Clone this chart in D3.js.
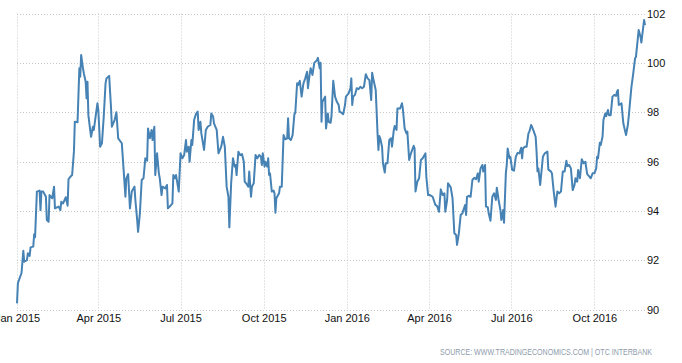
<!DOCTYPE html>
<html>
<head>
<meta charset="utf-8">
<script src="https://cdn.jsdelivr.net/npm/d3@7"></script>
<style>
  html, body { margin: 0; padding: 0; background: #fff; }
  svg { display: block; }
</style>
</head>
<body>
<svg id="chart" width="682" height="363"></svg>
<script>
// ---- data ----
const dates = [
"2015-01-01","2015-01-02","2015-01-06","2015-01-08","2015-01-09","2015-01-12","2015-01-13","2015-01-15","2015-01-16","2015-01-19",
"2015-01-20","2015-01-21","2015-01-23","2015-01-26","2015-01-27","2015-01-28","2015-01-30","2015-02-02","2015-02-03","2015-02-05",
"2015-02-06","2015-02-09","2015-02-11","2015-02-12","2015-02-16","2015-02-18","2015-02-19","2015-02-21","2015-02-24","2015-02-26",
"2015-02-27","2015-03-01","2015-03-03","2015-03-05","2015-03-06","2015-03-09","2015-03-11","2015-03-12","2015-03-13","2015-03-15",
"2015-03-16","2015-03-18","2015-03-19","2015-03-20","2015-03-21","2015-03-23","2015-03-24","2015-03-26","2015-03-27","2015-03-29",
"2015-03-31","2015-04-01","2015-04-03","2015-04-05","2015-04-07","2015-04-09","2015-04-10","2015-04-13","2015-04-15","2015-04-16",
"2015-04-19","2015-04-21","2015-04-23","2015-04-27","2015-04-29","2015-05-01","2015-05-02","2015-05-04","2015-05-06","2015-05-08",
"2015-05-11","2015-05-12","2015-05-14","2015-05-15","2015-05-17","2015-05-19","2015-05-21","2015-05-23","2015-05-25","2015-05-26",
"2015-05-28","2015-05-30","2015-05-31","2015-06-02","2015-06-03","2015-06-05","2015-06-07","2015-06-08","2015-06-10","2015-06-11",
"2015-06-14","2015-06-16","2015-06-17","2015-06-19","2015-06-22","2015-06-23","2015-06-25","2015-06-26","2015-06-29","2015-07-01",
"2015-07-03","2015-07-05","2015-07-07","2015-07-08","2015-07-10","2015-07-11","2015-07-13","2015-07-14","2015-07-16","2015-07-18",
"2015-07-20","2015-07-21","2015-07-23","2015-07-24","2015-07-27","2015-07-29","2015-07-31","2015-08-03","2015-08-04","2015-08-06",
"2015-08-07","2015-08-10","2015-08-12","2015-08-15","2015-08-17","2015-08-19","2015-08-21","2015-08-23","2015-08-24","2015-08-26",
"2015-08-28","2015-08-30","2015-08-31","2015-09-01","2015-09-03","2015-09-05","2015-09-07","2015-09-09","2015-09-10","2015-09-12",
"2015-09-14","2015-09-15","2015-09-17","2015-09-18","2015-09-20","2015-09-22","2015-09-24","2015-09-26","2015-09-28","2015-09-29",
"2015-09-30","2015-10-02","2015-10-03","2015-10-05","2015-10-06","2015-10-07","2015-10-08","2015-10-10","2015-10-12","2015-10-13",
"2015-10-14","2015-10-15","2015-10-18","2015-10-19","2015-10-21","2015-10-23","2015-10-25","2015-10-27","2015-10-28","2015-10-29",
"2015-10-31","2015-11-02","2015-11-04","2015-11-05","2015-11-07","2015-11-08","2015-11-10","2015-11-12","2015-11-14","2015-11-16",
"2015-11-18","2015-11-19","2015-11-21","2015-11-22","2015-11-24","2015-11-26","2015-11-29","2015-11-30","2015-12-02","2015-12-03",
"2015-12-04","2015-12-05","2015-12-08","2015-12-09","2015-12-11","2015-12-12","2015-12-14","2015-12-15","2015-12-17","2015-12-19",
"2015-12-21","2015-12-23","2015-12-24","2015-12-26","2015-12-28","2015-12-30","2015-12-31","2016-01-03","2016-01-05","2016-01-06",
"2016-01-07","2016-01-08","2016-01-10","2016-01-12","2016-01-14","2016-01-16","2016-01-18","2016-01-20","2016-01-22","2016-01-24",
"2016-01-26","2016-01-28","2016-01-29","2016-01-31","2016-02-02","2016-02-04","2016-02-05","2016-02-06","2016-02-07","2016-02-09",
"2016-02-10","2016-02-12","2016-02-13","2016-02-15","2016-02-17","2016-02-19","2016-02-20","2016-02-22","2016-02-23","2016-02-25",
"2016-02-26","2016-02-29","2016-03-02","2016-03-03","2016-03-05","2016-03-07","2016-03-08","2016-03-10","2016-03-12","2016-03-15",
"2016-03-16","2016-03-17","2016-03-19","2016-03-21","2016-03-23","2016-03-25","2016-03-28","2016-03-29","2016-03-31","2016-04-02",
"2016-04-05","2016-04-08","2016-04-10","2016-04-12","2016-04-14","2016-04-16","2016-04-18","2016-04-19","2016-04-21","2016-04-22",
"2016-04-25","2016-04-27","2016-04-29","2016-05-01","2016-05-02","2016-05-04","2016-05-06","2016-05-08","2016-05-09","2016-05-11",
"2016-05-12","2016-05-13","2016-05-15","2016-05-17","2016-05-19","2016-05-21","2016-05-23","2016-05-25","2016-05-26","2016-05-28",
"2016-05-30","2016-05-31","2016-06-02","2016-06-03","2016-06-05","2016-06-06","2016-06-08","2016-06-10","2016-06-12","2016-06-14",
"2016-06-15","2016-06-17","2016-06-19","2016-06-20","2016-06-22","2016-06-23","2016-06-25","2016-06-26","2016-06-27","2016-06-29",
"2016-06-30","2016-07-02","2016-07-04","2016-07-06","2016-07-08","2016-07-10","2016-07-12","2016-07-13","2016-07-14","2016-07-16",
"2016-07-18","2016-07-20","2016-07-21","2016-07-23","2016-07-24","2016-07-26","2016-07-28","2016-07-29","2016-07-30","2016-07-31",
"2016-08-02","2016-08-05","2016-08-07","2016-08-10","2016-08-11","2016-08-14","2016-08-15","2016-08-17","2016-08-19","2016-08-21",
"2016-08-23","2016-08-25","2016-08-27","2016-08-29","2016-08-31","2016-09-01","2016-09-03","2016-09-05","2016-09-07","2016-09-09",
"2016-09-10","2016-09-12","2016-09-13","2016-09-15","2016-09-17","2016-09-19","2016-09-21","2016-09-23","2016-09-25","2016-09-27",
"2016-09-29","2016-10-01","2016-10-03","2016-10-04","2016-10-05","2016-10-07","2016-10-08","2016-10-10","2016-10-11","2016-10-13",
"2016-10-14","2016-10-16","2016-10-17","2016-10-19","2016-10-21","2016-10-23","2016-10-25","2016-10-26","2016-10-27","2016-10-28",
"2016-10-31","2016-11-02","2016-11-05","2016-11-07","2016-11-08","2016-11-10","2016-11-11","2016-11-13","2016-11-15","2016-11-16",
"2016-11-19","2016-11-21","2016-11-22","2016-11-23","2016-11-25","2016-11-26"
];
const values = [
90.25,91.07,91.48,92.38,91.94,92.00,92.28,92.17,92.52,92.55,
93.05,92.93,94.78,94.82,94.03,94.78,94.78,94.57,93.63,93.56,
94.64,94.51,94.98,94.10,94.17,94.03,94.37,94.30,94.55,94.21,
95.28,95.38,95.45,96.40,97.61,97.59,99.78,99.44,100.32,99.78,
99.57,99.23,98.56,99.23,97.88,97.28,97.00,97.41,97.28,97.82,
98.36,98.09,96.60,96.74,97.82,99.17,99.37,99.47,98.22,97.41,
97.68,98.00,96.94,96.74,95.66,94.57,95.32,95.49,94.10,94.78,
94.98,94.44,93.63,93.15,93.90,95.25,95.32,96.13,96.03,97.34,
96.94,97.28,96.87,97.41,95.45,96.33,95.52,95.32,94.64,94.98,
94.91,95.05,94.10,94.17,94.30,95.45,95.32,95.45,94.78,96.33,
96.13,96.26,96.87,96.40,96.60,95.99,96.87,96.67,97.68,97.92,
98.02,97.28,97.61,97.14,96.47,97.28,97.41,97.48,97.95,97.82,
97.55,97.28,96.33,96.60,97.00,96.60,94.98,94.57,93.33,95.12,
96.13,95.79,95.86,95.45,96.40,96.26,96.30,95.99,95.18,95.09,
94.98,95.59,94.57,94.98,95.12,96.26,96.13,96.26,96.19,95.86,
96.33,95.79,95.99,95.79,96.13,95.45,95.52,94.78,94.82,94.71,
93.92,94.51,94.71,94.98,94.98,97.07,96.90,96.94,97.75,96.94,
96.87,97.07,97.92,97.98,99.17,99.10,99.27,98.63,99.17,99.37,
99.64,98.97,99.57,99.78,99.51,100.00,100.11,100.20,99.78,100.00,
97.61,98.42,98.63,97.34,97.95,97.61,97.57,97.82,99.27,98.63,
98.42,98.29,98.02,97.98,97.92,98.29,98.63,98.76,98.97,99.37,
98.29,98.63,98.70,98.97,98.93,99.03,98.97,99.03,99.54,99.37,
99.30,98.49,99.60,99.23,98.90,97.14,96.47,97.03,96.94,96.60,
95.93,95.55,95.93,95.93,96.87,96.94,96.60,97.28,97.44,97.28,
98.15,98.15,98.36,98.15,97.34,97.14,97.21,96.06,96.33,96.64,
96.53,94.78,95.18,95.32,96.06,96.13,96.33,95.38,94.64,94.64,
94.57,94.24,94.19,93.96,94.87,94.64,94.71,93.96,94.44,95.12,
94.95,94.51,93.09,93.02,92.62,93.09,93.83,93.90,94.03,94.24,
93.83,94.57,94.61,94.57,95.25,95.34,95.28,95.52,95.18,95.72,
95.86,95.59,95.86,94.17,94.15,93.90,93.60,94.57,94.71,94.44,
94.94,94.44,94.03,93.63,94.03,93.52,95.52,95.86,96.53,96.13,
96.19,95.66,95.63,96.19,96.35,96.33,96.56,96.13,96.53,96.60,
96.60,97.14,97.21,97.48,97.41,97.21,97.00,96.40,95.60,95.72,
95.05,96.19,96.33,96.40,95.68,95.59,95.52,94.78,94.17,94.78,
94.71,94.78,95.59,95.59,96.03,95.82,95.86,95.72,94.84,95.05,
95.32,95.18,95.66,95.32,96.09,95.93,95.99,95.49,95.41,95.32,
95.52,95.52,95.72,96.19,96.13,96.76,96.67,97.00,97.68,97.95,
97.84,98.09,97.88,97.88,98.63,98.70,98.66,98.83,98.90,98.29,
98.36,97.55,97.07,97.48,97.82,98.63,99.03,99.57,100.18,100.25,
101.33,101.06,100.82,101.13,101.74,101.53
];
const xTickDates = ["2015-01-01","2015-04-01","2015-07-01","2015-10-01","2016-01-01","2016-04-01","2016-07-01","2016-10-01"];
const xTickLabels = ["Jan 2015","Apr 2015","Jul 2015","Oct 2015","Jan 2016","Apr 2016","Jul 2016","Oct 2016"];
const yTicks = [90, 92, 94, 96, 98, 100, 102];
const sourceText = "SOURCE: WWW.TRADINGECONOMICS.COM | OTC INTERBANK";

// ---- layout ----
const W = 682, H = 363;
const margin = { top: 13.5, right: 37, bottom: 53.5, left: 17 };
const parse = d3.utcParse("%Y-%m-%d");
const data = dates.map((d, i) => ({ date: parse(d), value: values[i] }));

const x = d3.scaleUtc()
  .domain(d3.extent(data, d => d.date))
  .range([margin.left, W - margin.right]);
const y = d3.scaleLinear()
  .domain([90, 102])
  .range([H - margin.bottom, margin.top]);

const svg = d3.select("#chart");
const font = "'Liberation Sans', Arial, sans-serif";

// horizontal grid
svg.append("g")
  .selectAll("line")
  .data(yTicks)
  .join("line")
  .attr("x1", margin.left)
  .attr("x2", W - margin.right)
  .attr("y1", d => Math.round(y(d)) + 0.5)
  .attr("y2", d => Math.round(y(d)) + 0.5)
  .attr("stroke", "#c8c8c8")
  .attr("stroke-width", 1)
  .attr("stroke-dasharray", "1,2");

// vertical grid
const tickDates = xTickDates.map(parse);
svg.append("g")
  .selectAll("line")
  .data(tickDates)
  .join("line")
  .attr("x1", d => Math.round(x(d)) + 0.5)
  .attr("x2", d => Math.round(x(d)) + 0.5)
  .attr("y1", margin.top)
  .attr("y2", H - margin.bottom)
  .attr("stroke", "#c8c8c8")
  .attr("stroke-width", 1)
  .attr("stroke-dasharray", "1,2");

// x axis labels via d3 axis
const xAxis = d3.axisBottom(x)
  .tickValues(tickDates)
  .tickFormat((d, i) => xTickLabels[i])
  .tickSize(0)
  .tickPadding(0);
const gx = svg.append("g")
  .attr("transform", `translate(0, ${H - margin.bottom + 5})`)
  .call(xAxis);
gx.select(".domain").remove();
gx.selectAll("text")
  .attr("fill", "#111")
  .style("font-family", font)
  .style("font-size", "11px");

// y axis labels on the right
const yAxis = d3.axisRight(y)
  .tickValues(yTicks)
  .tickSize(0)
  .tickPadding(2);
const gy = svg.append("g")
  .attr("transform", `translate(${W - margin.right}, 0)`)
  .call(yAxis);
gy.select(".domain").remove();
gy.selectAll("text")
  .attr("fill", "#111")
  .style("font-family", font)
  .style("font-size", "11px");

// line
const line = d3.line()
  .x(d => x(d.date))
  .y(d => y(d.value));
svg.append("path")
  .datum(data)
  .attr("fill", "none")
  .attr("stroke", "#4682b4")
  .attr("stroke-width", 2)
  .attr("stroke-linejoin", "round")
  .attr("d", line);

// source (horizontally condensed)
svg.append("g")
  .attr("transform", "translate(652, 355) scale(0.83, 1)")
  .append("text")
  .attr("x", 0)
  .attr("y", 0)
  .attr("text-anchor", "end")
  .attr("fill", "#8e9bab")
  .style("font-family", font)
  .style("font-size", "8.5px")
  .text(sourceText);
</script>
</body>
</html>
